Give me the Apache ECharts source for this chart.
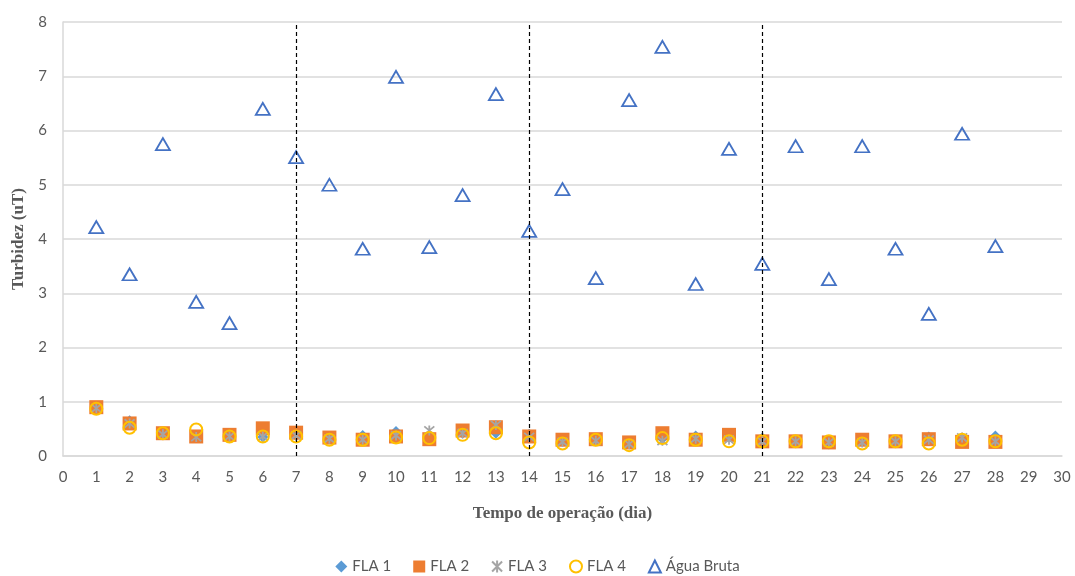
<!DOCTYPE html>
<html>
<head>
<meta charset="utf-8">
<script src="https://cdn.jsdelivr.net/npm/echarts@6/dist/echarts.min.js"></script>
<style>
  html, body { margin: 0; padding: 0; background: #fff; }
  #chart { width: 1075px; height: 576px; }
</style>
</head>
<body>
<div id="chart"></div>
<script>
// Operating days
const days = [1,2,3,4,5,6,7,8,9,10,11,12,13,14,15,16,17,18,19,20,21,22,23,24,25,26,27,28];

// Turbidity (uT) per filter and raw water
const fla1 = [0.88,0.65,0.42,0.38,0.36,0.35,0.38,0.36,0.38,0.45,0.36,0.42,0.42,0.40,0.27,0.28,0.22,0.32,0.37,0.37,0.33,0.27,0.22,0.27,0.27,0.35,0.30,0.37];
const fla2 = [0.90,0.60,0.42,0.36,0.39,0.51,0.43,0.34,0.30,0.36,0.31,0.47,0.53,0.36,0.30,0.31,0.25,0.42,0.30,0.39,0.27,0.27,0.25,0.30,0.27,0.31,0.26,0.26];
const fla3 = [0.88,0.60,0.40,0.35,0.36,0.36,0.38,0.32,0.30,0.38,0.47,0.42,0.57,0.35,0.26,0.28,0.22,0.28,0.32,0.30,0.27,0.27,0.25,0.25,0.27,0.30,0.34,0.27];
const fla4 = [0.87,0.52,0.42,0.49,0.36,0.36,0.36,0.30,0.30,0.34,0.33,0.39,0.42,0.25,0.23,0.30,0.20,0.33,0.30,0.27,0.27,0.27,0.27,0.23,0.27,0.23,0.30,0.27];
const aguaBruta = [4.22,3.35,5.75,2.84,2.45,6.40,5.51,5.00,3.82,6.99,3.85,4.81,6.67,4.15,4.92,3.28,6.56,7.54,3.17,5.66,3.54,5.71,3.26,5.71,3.82,2.62,5.94,3.87];

// Week boundaries (dashed verticals)
const weekMarks = [7, 14, 21];

const seriesNames = ['FLA 1', 'FLA 2', 'FLA 3', 'FLA 4', 'Água Bruta'];

const pairs = arr => days.map((d, i) => [d, arr[i]]);
const asterisk = 'path://M0,0L10,10M10,0L0,10M5,-1L5,11';

const chart = echarts.init(document.getElementById('chart'));
const gray = '#595959';

chart.setOption({
  animation: false,
  backgroundColor: '#fff',
  grid: { left: 63, right: 13, top: 22, bottom: 120 },
  xAxis: {
    type: 'value', min: 0, max: 30, interval: 1,
    name: 'Tempo de operação (dia)', nameLocation: 'middle', nameGap: 49,
    nameTextStyle: { fontFamily: 'Liberation Serif', fontWeight: 'bold', fontSize: 17, color: gray },
    axisLine: { show: true, lineStyle: { color: '#D9D9D9', width: 1.5 } },
    axisTick: { show: false },
    splitLine: { show: false },
    axisLabel: { color: gray, fontFamily: 'Lato', fontSize: 15, margin: 14 }
  },
  yAxis: {
    type: 'value', min: 0, max: 8, interval: 1,
    name: 'Turbidez (uT)', nameLocation: 'middle', nameGap: 35,
    nameTextStyle: { fontFamily: 'Liberation Serif', fontWeight: 'bold', fontSize: 17, color: gray },
    axisLine: { show: true, lineStyle: { color: '#D9D9D9', width: 1.5 } },
    axisTick: { show: false },
    splitLine: { show: true, lineStyle: { color: '#D9D9D9', width: 1.5 } },
    axisLabel: { color: gray, fontFamily: 'Lato', fontSize: 15, margin: 16 }
  },
  legend: {
    bottom: 2, left: 'center', padding: 0, itemGap: 22, itemWidth: 12, itemHeight: 12,
    textStyle: { color: gray, fontFamily: 'Lato', fontSize: 15 },
    data: seriesNames
  },
  series: [
    {
      name: seriesNames[0], type: 'scatter', data: pairs(fla1),
      symbol: 'diamond', symbolSize: 11,
      itemStyle: { color: '#5B9BD5', opacity: 1 },
      markLine: {
        silent: true, symbol: 'none', label: { show: false },
        lineStyle: { color: '#000', type: [4, 3], width: 1.2 },
        data: weekMarks.map(x => ({ xAxis: x }))
      }
    },
    {
      name: seriesNames[1], type: 'scatter', data: pairs(fla2),
      symbol: 'rect', symbolSize: 14,
      itemStyle: { color: '#ED7D31', opacity: 1 }
    },
    {
      name: seriesNames[2], type: 'scatter', data: pairs(fla3),
      symbol: asterisk, symbolSize: 10,
      itemStyle: { color: '#A5A5A5', borderColor: '#A5A5A5', borderWidth: 1.8, opacity: 1 }
    },
    {
      name: seriesNames[3], type: 'scatter', data: pairs(fla4),
      symbol: 'circle', symbolSize: 12,
      itemStyle: { color: 'rgba(0,0,0,0)', borderColor: '#FFC000', borderWidth: 2, opacity: 1 }
    },
    {
      name: seriesNames[4], type: 'scatter', data: pairs(aguaBruta),
      symbol: 'triangle', symbolSize: [14, 12],
      itemStyle: { color: 'rgba(0,0,0,0)', borderColor: '#4472C4', borderWidth: 1.8, opacity: 1 }
    }
  ]
});
</script>
</body>
</html>
